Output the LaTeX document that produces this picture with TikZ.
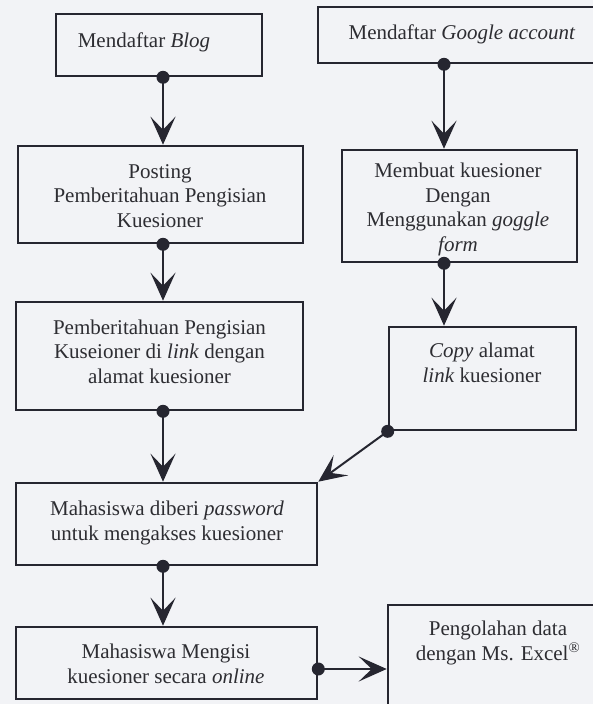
\documentclass[tikz,border=0pt]{standalone}
\usepackage{fontspec}
\setmainfont{Liberation Serif}
\usetikzlibrary{arrows.meta,calc}
\definecolor{bgc}{RGB}{242,243,246}
\definecolor{linec}{RGB}{38,38,48}
\definecolor{textc}{RGB}{45,45,50}
\tikzset{
  box/.style={draw=linec, line width=2.6pt, fill=none, inner sep=0pt},
  txt/.style={text=textc, align=center, inner sep=0pt, font=\fontsize{21}{24.5}\selectfont, anchor=base},
  conn/.style={draw=linec, line width=2pt, -{Stealth[length=28pt,width=25pt,inset=13pt]}},
  dotc/.style={fill=linec}
}
\begin{document}
\begin{tikzpicture}[x=1pt,y=-1pt]
\useasboundingbox (0,0) rectangle (593,704);
\fill[bgc] (0,0) rectangle (593,704);
\begin{scope}
\clip (0,0) rectangle (593,704);
% boxes
\node[box, minimum width=206pt, minimum height=62pt] (b1) at (159,45) {};
\node[box, minimum width=288pt, minimum height=56pt] (b2) at (462,35) {};
\node[box, minimum width=285pt, minimum height=97pt] (b3) at (160.5,194.5) {};
\node[box, minimum width=235pt, minimum height=112pt] (b4) at (459.5,206) {};
\node[box, minimum width=287pt, minimum height=108pt] (b5) at (159.5,356) {};
\node[box, minimum width=187pt, minimum height=103pt] (b6) at (482.5,378.5) {};
\node[box, minimum width=301pt, minimum height=82pt] (b7) at (166.5,524) {};
\node[box, minimum width=301pt, minimum height=72pt] (b8) at (166.5,663) {};
\node[box, minimum width=220pt, minimum height=155pt] (b9) at (498,682.5) {};
% texts (anchor base = baseline of last line)
\node[txt] (t1) at (144,47) {Mendaftar \textit{Blog}};
\node[txt] (t2) at (462,39) {Mendaftar \textit{Google account}};
\node[txt] (t3) at (160,227) {Posting\\Pemberitahuan Pengisian\\Kuesioner};
\node[txt] (t4) at (458,251) {Membuat kuesioner\\Dengan\\Menggunakan \textit{goggle}\\\textit{form}};
\node[txt] (t5) at (159.5,383) {Pemberitahuan Pengisian\\Kuseioner di \textit{link} dengan\\alamat kuesioner};
\node[txt] (t6) at (482,382) {\textit{Copy} alamat\\\textit{link} kuesioner};
\node[txt] (t7) at (167,540) {Mahasiswa diberi \textit{password}\\untuk mengakses kuesioner};
\node[txt] (t8) at (166,683) {Mahasiswa Mengisi\\kuesioner secara \textit{online}};
\node[txt] (t9) at (498,660) {Pengolahan data\\dengan Ms. Excel\textsuperscript{®}};
% columns
\coordinate (colL) at (163,0);
\coordinate (colR) at (444,0);
\coordinate (rowE) at (0,669);
% connectors
\draw[conn] (b1.south -| colL) -- (b3.north -| colL);
\draw[conn] (b3.south -| colL) -- (b5.north -| colL);
\draw[conn] (b5.south -| colL) -- (b7.north -| colL);
\draw[conn] (b7.south -| colL) -- (b8.north -| colL);
\draw[conn] (b2.south -| colR) -- (b4.north -| colR);
\draw[conn] (b4.south -| colR) -- (b6.north -| colR);
\draw[conn] (b6.south west) -- (b7.north east);
\draw[conn] (b8.east |- rowE) -- (b9.west |- rowE);
% dots
\fill[dotc] (b1.south -| colL) circle (6.5pt);
\fill[dotc] (b3.south -| colL) circle (6.5pt);
\fill[dotc] (b5.south -| colL) circle (6.5pt);
\fill[dotc] (b7.south -| colL) circle (6.5pt);
\fill[dotc] (b2.south -| colR) circle (6.5pt);
\fill[dotc] (b4.south -| colR) circle (6.5pt);
\fill[dotc] (b6.south west) circle (6.5pt);
\fill[dotc] (b8.east |- rowE) circle (6.5pt);
\end{scope}
\end{tikzpicture}
\end{document}
